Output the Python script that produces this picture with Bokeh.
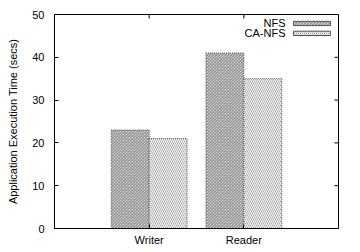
from bokeh.plotting import figure
from bokeh.models import ColumnDataSource, Range1d, FixedTicker
from bokeh.transform import dodge
from bokeh.core.properties import value
from bokeh.embed import file_html
from bokeh.resources import INLINE

categories = ["Writer", "Reader"]
positions = [0, 1]
nfs = [23, 41]
ca_nfs = [21, 35]
series_names = ["NFS", "CA-NFS"]
y_ticks = [0, 10, 20, 30, 40, 50]

src = ColumnDataSource(dict(x=positions, nfs=nfs, ca=ca_nfs))

FONT = "Liberation Sans"
X0, X1, Y0, Y1 = -1, 2, 0, 50

p = figure(width=360, height=252, output_backend="svg", toolbar_location=None,
           x_range=Range1d(X0, X1), y_range=Range1d(Y0, Y1),
           min_border_left=54, min_border_right=22, min_border_top=14, min_border_bottom=24)
p.grid.visible = False
p.outline_line_color = "black"
p.outline_line_width = 1
p.background_fill_color = "white"
p.border_fill_color = "white"

p.vbar(x=dodge("x", -0.2, range=p.x_range), top="nfs", width=0.4, source=src,
       fill_color="white", line_color="#555555", line_dash="1 1", line_width=1,
       hatch_pattern="\\", hatch_color="#777777", hatch_scale=3, hatch_weight=1)
p.vbar(x=dodge("x", 0.2, range=p.x_range), top="ca", width=0.4, source=src,
       fill_color="white", line_color="#555555", line_dash="1 1", line_width=1,
       hatch_pattern="\\", hatch_color="#aaaaaa", hatch_scale=4, hatch_weight=1)

# legend (gnuplot style: label then sample)
p.text(x=[1.44, 1.44], y=[47.9, 45.6], text=series_names, text_align="right",
       text_baseline="middle", text_font=value(FONT), text_font_size="11px", text_color="black")
p.rect(x=[1.72], y=[47.9], width=0.39, height=1.0, fill_color="white",
       line_color="#555555", line_width=1,
       hatch_pattern="\\", hatch_color="#777777", hatch_scale=3, hatch_weight=1)
p.rect(x=[1.72], y=[45.6], width=0.39, height=1.0, fill_color="white",
       line_color="#555555", line_width=1,
       hatch_pattern="\\", hatch_color="#aaaaaa", hatch_scale=4, hatch_weight=1)

# mirrored inward ticks (right and top), gnuplot style
tick_dx = 4 / 284 * (X1 - X0)
tick_dy = 4 / 214 * (Y1 - Y0)
p.segment(x0=[X1] * len(y_ticks), x1=[X1 - tick_dx] * len(y_ticks), y0=y_ticks, y1=y_ticks,
          line_color="black", line_width=1)
p.segment(x0=positions, x1=positions, y0=[Y1] * len(positions), y1=[Y1 - tick_dy] * len(positions),
          line_color="black", line_width=1)

xa = p.xaxis[0]
xa.ticker = FixedTicker(ticks=positions)
xa.major_label_overrides = {0: categories[0], 1: categories[1]}
ya = p.yaxis[0]
ya.ticker = FixedTicker(ticks=y_ticks)
ya.axis_label = "Application Execution Time (secs)"

for ax in (xa, ya):
    ax.axis_line_color = "black"
    ax.major_tick_in = 4
    ax.major_tick_out = 0
    ax.minor_tick_line_color = None
    ax.major_tick_line_color = "black"
    ax.major_label_text_font = FONT
    ax.major_label_text_font_size = "11px"
    ax.major_label_text_color = "black"
    ax.axis_label_text_font = FONT
    ax.axis_label_text_font_size = "11px"
    ax.axis_label_text_font_style = "normal"
    ax.axis_label_text_color = "black"
ya.major_label_standoff = 10
xa.major_label_standoff = 5
ya.axis_label_standoff = 10

open("out.html", "w").write(file_html(p, INLINE))
